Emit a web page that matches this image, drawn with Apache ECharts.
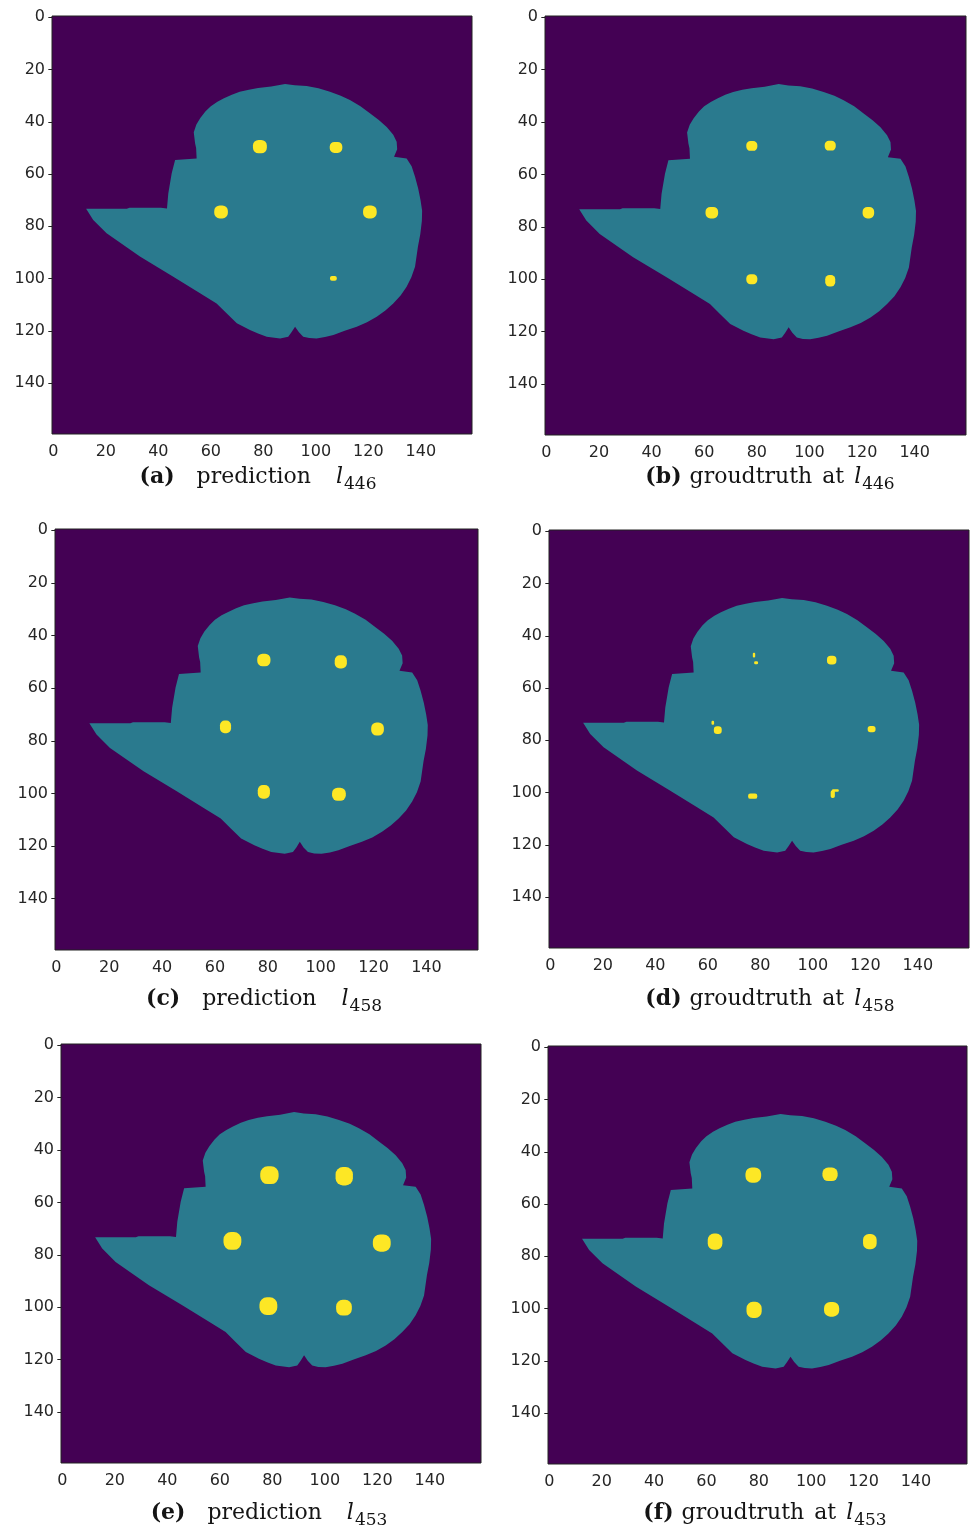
<!DOCTYPE html>
<html><head><meta charset="utf-8">
<script src="https://cdn.jsdelivr.net/npm/echarts@6/dist/echarts.min.js"></script>
<style>html,body{margin:0;padding:0;background:#fff}#c{width:970px;height:1535px}</style>
</head><body><div id="c"></div>
<script>
// ---------------- data ----------------
const xTicks = [0, 20, 40, 60, 80, 100, 120, 140];
const yTicks = [0, 20, 40, 60, 80, 100, 120, 140];
const imageWidth = 160;
const imageHeight = 160;

// outline of the segmented part (class 1), in pixel coordinates (x, y)
const bodyOutline = [
  [12.5, 73.3], [28, 73.3], [29, 72.9], [41, 72.9], [43.3, 73.2], [43.8, 67.4], [45.1, 59.7], [46.4, 54.6],
  [54.6, 54.0], [54.4, 50], [54, 48.2], [53.5, 44], [54.5, 41], [56, 38.5], [58, 36], [60, 34], [62.5, 32.3],
  [65, 31], [68, 29.6], [71, 28.5], [74.5, 27.7], [78, 27.1], [83, 26.5], [88.3, 25.5], [92, 26], [96.5, 26.3],
  [101, 27.2], [105.4, 28.5], [109.5, 30], [113, 31.7], [117, 34], [120.6, 36.7], [124, 39.3], [127, 42],
  [129.5, 45], [130.8, 47.6], [131, 50.5], [129.8, 53.4], [134.6, 54], [136.5, 57], [137.8, 61], [139, 65.5],
  [139.9, 70], [140.5, 74], [140.4, 78], [139.8, 83], [138.9, 87.8], [137.8, 95.5], [136.4, 99.5], [134.6, 103.1],
  [132.3, 106.5], [129.5, 109.5], [126.5, 112.2], [123.2, 114.6], [119.5, 116.7], [115.6, 118.4], [111, 120],
  [106.7, 121.6], [103.5, 122.4], [100.3, 122.9], [97.5, 122.8], [95.2, 122.3], [93.5, 120.5], [92.1, 118.4],
  [90.8, 120.5], [89.5, 122.3], [86.4, 122.9], [81.3, 122.3], [78, 121], [74.9, 119.7], [69.9, 117.1],
  [66, 113.3], [62.2, 109.5], [55.9, 105.6], [45.7, 99.3], [33, 91.6], [20.3, 82.7], [15.2, 77.6]
];

// class 2 blobs: [centre x, centre y, width, height]
const dotsA = [[78.7, 49.5, 5.3, 5.1], [107.7, 49.8, 4.8, 4.2], [63.9, 74.5, 5.2, 5.0], [120.6, 74.5, 5.2, 5.0], [106.7, 99.9, 2.6, 1.8]];
const dotsB = [[78.1, 49.1, 4.2, 3.8], [107.9, 49.0, 4.2, 3.8], [62.9, 74.6, 4.8, 4.4], [122.4, 74.6, 4.4, 4.4], [78.1, 100.0, 4.2, 3.8], [107.9, 100.6, 3.8, 4.4]];
const dotsC = [[78.5, 49.3, 5.0, 4.8], [107.6, 50.0, 4.6, 5.0], [64.0, 74.7, 4.2, 4.8], [121.5, 75.5, 4.8, 5.0], [78.5, 99.4, 4.6, 5.2], [106.9, 100.3, 5.2, 5.0]];
const dotsD = [[77.6, 47.4, 0.9, 1.8], [78.4, 50.3, 1.5, 1.2], [107.2, 49.3, 3.6, 3.4], [61.9, 73.3, 1.0, 1.5], [63.8, 76.1, 3.0, 3.0],
               [122.4, 75.7, 3.0, 2.4], [77.1, 101.4, 3.5, 2.0], [107.6, 100.6, 1.6, 3.0], [108.6, 99.2, 2.6, 1.0]];
const dotsE = [[78.9, 49.6, 7.0, 6.8], [107.4, 50.0, 6.6, 7.0], [64.8, 74.7, 6.8, 6.8], [121.7, 75.5, 6.8, 6.6], [78.5, 99.6, 6.8, 6.8], [107.3, 100.2, 6.0, 6.0]];
const dotsF = [[77.9, 48.9, 6.0, 5.8], [107.2, 48.6, 5.8, 5.2], [63.3, 74.4, 5.6, 6.2], [122.4, 74.4, 5.2, 5.8], [78.2, 100.5, 5.8, 6.2], [107.8, 100.3, 5.8, 5.6]];

const captionTags = ['(a)', '(b)', '(c)', '(d)', '(e)', '(f)'];
const captionWords = [['prediction'], ['groudtruth', 'at'], ['prediction'], ['groudtruth', 'at'], ['prediction'], ['groudtruth', 'at']];
const captionSubs = ['446', '446', '458', '458', '453', '453'];
const panelDots = [dotsA, dotsB, dotsC, dotsD, dotsE, dotsF];

// ---------------- layout ----------------
const grids = [
  {left: 52, top: 16, width: 420, height: 418},
  {left: 545, top: 16, width: 421, height: 419},
  {left: 55, top: 529, width: 423, height: 421},
  {left: 549, top: 530, width: 420, height: 418},
  {left: 61, top: 1044, width: 420, height: 419},
  {left: 548, top: 1046, width: 419, height: 418}
];
const capPos = [[258, 464], [770, 464], [264, 986], [770, 986], [269, 1500], [765, 1500]];
const capGaps = [[22, 25], [8, 10, 10], [22, 25], [8, 10, 10], [22, 25], [8, 10, 10]];

const PURPLE = '#440154', TEAL = '#2a7a8e', YELLOW = '#fde725';
const SERIF = 'DejaVu Serif';
const INK = '#141414';

const option = {
  animation: false,
  backgroundColor: '#ffffff',
  grid: grids.map(g => Object.assign({show: true, borderColor: '#222', borderWidth: 1, backgroundColor: 'transparent', z: 10}, g)),
  xAxis: grids.map((g, i) => ({
    type: 'value', gridIndex: i, min: -0.5, max: imageWidth - 0.5,
    axisLine: {show: false}, splitLine: {show: false},
    axisTick: {show: true, length: 5, lineStyle: {color: '#222', width: 1}, customValues: xTicks},
    axisLabel: {customValues: xTicks, fontSize: 16, fontFamily: 'DejaVu Sans', color: '#262626', margin: 10}
  })),
  yAxis: grids.map((g, i) => ({
    type: 'value', gridIndex: i, inverse: true, min: -0.5, max: imageHeight - 0.5,
    axisLine: {show: false}, splitLine: {show: false},
    axisTick: {show: true, length: 5, lineStyle: {color: '#222', width: 1}, customValues: yTicks},
    axisLabel: {customValues: yTicks, fontSize: 16, fontFamily: 'DejaVu Sans', color: '#262626', margin: 7}
  })),
  title: captionTags.map((tag, i) => {
    const gaps = capGaps[i];
    const words = captionWords[i];
    const rich = {
      b: {fontFamily: SERIF, fontWeight: 'bold', fontSize: 22, lineHeight: 26, color: INK},
      s: {fontFamily: SERIF, fontWeight: 'normal', fontSize: 17, lineHeight: 17, padding: [16, 0, 0, 0], color: INK}
    };
    let text = '{b|' + tag + '}';
    words.forEach((w, k) => {
      rich['w' + k] = {fontFamily: SERIF, fontWeight: 'normal', fontSize: 22, lineHeight: 26, padding: [0, 0, 0, gaps[k]], color: INK};
      text += '{w' + k + '|' + w + '}';
    });
    rich.i = {fontFamily: SERIF, fontWeight: 'normal', fontStyle: 'italic', fontSize: 22, lineHeight: 26, padding: [0, 1, 0, gaps[words.length]], color: INK};
    text += '{i|l}{s|' + captionSubs[i] + '}';
    return {left: capPos[i][0], top: capPos[i][1], textAlign: 'center', padding: 0, text: text,
            textStyle: {fontWeight: 'normal', fontFamily: SERIF, rich: rich}};
  }),
  series: []
};

grids.forEach((g, i) => {
  option.series.push({
    type: 'custom', xAxisIndex: i, yAxisIndex: i, silent: true, z: 1,
    data: [[0, 0]],
    renderItem: function (params, api) {
      const p0 = api.coord([-0.5, -0.5]);
      const p1 = api.coord([imageWidth - 0.5, imageHeight - 0.5]);
      return {type: 'rect', shape: {x: Math.min(p0[0], p1[0]), y: Math.min(p0[1], p1[1]), width: Math.abs(p1[0] - p0[0]), height: Math.abs(p1[1] - p0[1])}, style: {fill: PURPLE}};
    }
  });
  option.series.push({
    type: 'custom', xAxisIndex: i, yAxisIndex: i, silent: true, z: 2,
    data: [[0, 0]],
    renderItem: function (params, api) {
      return {type: 'polygon', shape: {points: bodyOutline.map(p => api.coord(p))}, style: {fill: TEAL}};
    }
  });
  option.series.push({
    type: 'custom', xAxisIndex: i, yAxisIndex: i, silent: true, z: 3,
    data: panelDots[i],
    encode: {x: 0, y: 1},
    renderItem: function (params, api) {
      const cx = api.value(0), cy = api.value(1), w = api.value(2), h = api.value(3);
      const c = api.coord([cx - w / 2, cy - h / 2]);
      const s = api.size([w, h]);
      const sw = Math.abs(s[0]), sh = Math.abs(s[1]);
      return {type: 'rect', shape: {x: c[0], y: c[1], width: sw, height: sh, r: Math.min(sw, sh) * 0.42}, style: {fill: YELLOW}};
    }
  });
});

const chart = echarts.init(document.getElementById('c'), null, {renderer: 'canvas'});
chart.setOption(option);
</script>
</body></html>
